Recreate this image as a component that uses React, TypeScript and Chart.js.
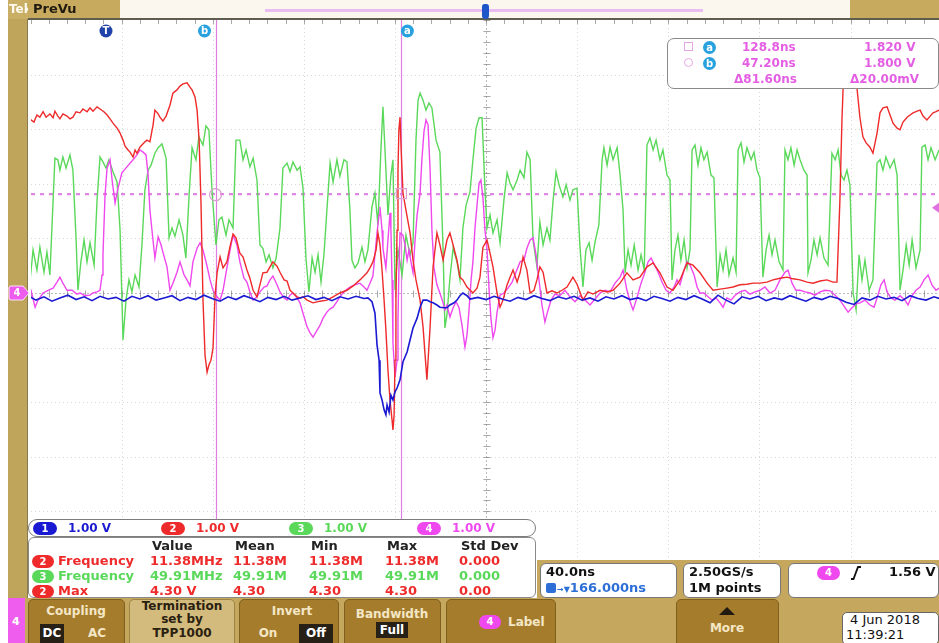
import React, { useEffect, useRef } from "react";
import { Chart, registerables } from "chart.js";

Chart.register(...registerables);

// Horizontal: 40 ns/div, 10 divisions, 166 ns delay at screen centre
const TIME_PER_DIV = 40;
const H_DELAY = 166;
const TIME_MIN = -33.8;
const TIME_MAX = 364.8;
// Vertical: every channel at 1.00 V/div, ±5 divisions
const VOLT_MIN = -5;
const VOLT_MAX = 5;

const CURSOR_A = { t: 128.8, v: 1.82 };
const CURSOR_B = { t: 47.2, v: 1.8 };
const TRIGGER_LEVEL = 1.56;

const channelScales = ["1.00 V", "1.00 V", "1.00 V", "1.00 V"];
const measurementHeaders = ["Value", "Mean", "Min", "Max", "Std Dev"];
const measurementRows = [
  { ch: 2, name: "Frequency", cells: ["11.38MHz", "11.38M", "11.38M", "11.38M", "0.000"] },
  { ch: 3, name: "Frequency", cells: ["49.91MHz", "49.91M", "49.91M", "49.91M", "0.000"] },
  { ch: 2, name: "Max", cells: ["4.30 V", "4.30", "4.30", "4.30", "0.00"] },
];

// Ch1 (blue) [time ns, volts]
const ch1Trace: [number, number][] = [
  [-35.1, -0.05], [-31.6, -0.13], [-28.1, -0.07], [-24.6, -0.15], [-21.1, -0.09], [-17.6, -0.04], [-14.0, -0.12],
  [-10.5, -0.07], [-7.0, -0.14], [-3.5, -0.06], [0, -0.11], [3.5, -0.08], [7.0, -0.15], [10.5, -0.06], [14.0, -0.11],
  [17.6, -0.05], [21.1, -0.13], [24.6, -0.09], [28.1, -0.05], [31.6, -0.14], [35.1, -0.08], [38.6, -0.12], [42.1, -0.04],
  [45.7, -0.1], [49.2, -0.15], [52.7, -0.07], [56.2, -0.12], [59.7, -0.05], [63.2, -0.1], [66.7, -0.16], [70.2, -0.08],
  [73.8, -0.12], [77.3, -0.06], [80.8, -0.13], [84.3, -0.09], [87.8, -0.05], [91.3, -0.12], [94.8, -0.08], [98.3, -0.14],
  [101.8, -0.07], [105.4, -0.11], [108.9, -0.06], [112.4, -0.1], [114.1, -0.09], [115.9, -0.16], [117.2, -0.37],
  [118.1, -0.95], [119.0, -1.23], [119.4, -1.83], [120.3, -1.96], [121.2, -2.14], [122.0, -2.23], [122.5, -2.05],
  [123.4, -2.18], [124.2, -1.87], [125.1, -1.96], [126.0, -1.81], [126.9, -1.74], [128.2, -1.59], [129.5, -1.26],
  [131.3, -1.08], [132.6, -0.86], [133.9, -0.64], [135.7, -0.46], [137.0, -0.26], [138.3, -0.13], [140.0, -0.13],
  [141.4, -0.16], [142.7, -0.18], [144.4, -0.22], [145.7, -0.26], [147.5, -0.27], [148.8, -0.27], [150.1, -0.22],
  [151.9, -0.18], [153.2, -0.13], [154.5, -0.05], [155.8, 0], [157.6, -0.05], [158.9, -0.11], [162.4, -0.08],
  [166.0, -0.12], [169.5, -0.06], [173.0, -0.11], [176.5, -0.15], [180.0, -0.08], [183.5, -0.12], [187.0, -0.05],
  [190.5, -0.1], [194.0, -0.14], [197.6, -0.07], [201.1, -0.11], [204.6, -0.06], [208.1, -0.13], [211.6, -0.09],
  [215.1, -0.15], [218.6, -0.07], [222.1, -0.11], [225.6, -0.05], [229.2, -0.12], [232.7, -0.09], [236.2, -0.14],
  [239.7, -0.06], [243.2, -0.1], [246.7, -0.15], [250.2, -0.08], [253.7, -0.12], [257.3, -0.05], [260.8, -0.11],
  [264.3, -0.18], [267.8, -0.04], [271.3, -0.13], [274.8, -0.2], [278.3, -0.07], [281.8, -0.11], [285.4, -0.06],
  [288.9, -0.14], [292.4, -0.09], [295.9, -0.12], [299.4, -0.05], [302.9, -0.1], [306.4, -0.15], [309.9, -0.08],
  [313.4, -0.12], [317.0, -0.06], [320.5, -0.1], [324.0, -0.17], [327.5, -0.21], [331.0, -0.09], [334.5, -0.13],
  [338.0, -0.06], [341.5, -0.11], [345.1, -0.08], [348.6, -0.14], [352.1, -0.05], [355.6, -0.1], [359.1, -0.13],
  [362.6, -0.07], [364.8, -0.1],
];

// Ch2 (red)
const ch2Trace: [number, number][] = [
  [-35.1, 3.1], [-33.8, 3.17], [-32.5, 3.13], [-31.2, 3.26], [-29.9, 3.22], [-28.5, 3.32], [-27.2, 3.22], [-25.5, 3.28],
  [-24.1, 3.21], [-23.3, 3.33], [-22.0, 3.24], [-21.1, 3.19], [-19.8, 3.28], [-18.0, 3.24], [-16.7, 3.19], [-15.4, 3.22],
  [-14.0, 3.32], [-12.3, 3.3], [-11.0, 3.37], [-9.2, 3.32], [-7.9, 3.39], [-6.6, 3.33], [-4.8, 3.41], [-3.5, 3.37],
  [-1.8, 3.32], [-0.4, 3.26], [0.9, 3.19], [2.2, 3.11], [4.0, 3.02], [5.3, 2.93], [6.6, 2.8], [7.5, 2.69], [8.8, 2.62],
  [9.7, 2.58], [11.0, 2.49], [11.9, 2.62], [12.7, 2.56], [14.0, 2.67], [15.8, 2.75], [17.1, 2.8], [18.4, 2.77],
  [19.8, 3.08], [20.6, 3.35], [22.0, 3.28], [22.8, 3.22], [24.1, 3.15], [25.5, 3.24], [27.2, 3.44], [28.5, 3.66],
  [30.3, 3.72], [31.6, 3.79], [32.9, 3.83], [34.7, 3.85], [36.0, 3.77], [36.9, 3.72], [38.2, 3.59], [39.1, 3.35],
  [40.0, 2.8], [40.8, 1.7], [41.7, -0.13], [42.6, -1.14], [43.5, -1.45], [44.3, -1.32], [45.2, -1.23], [46.1, -1.01],
  [47.0, -0.04], [47.9, 0.37], [49.2, 0.66], [50.5, 0.46], [52.2, 0.57], [53.6, 0.86], [54.9, 1.08], [56.2, 1.01],
  [57.9, 0.73], [59.3, 0.66], [61.0, 0.42], [62.3, 0.27], [63.7, 0.05], [65.4, -0.07], [66.7, 0.15], [68.0, 0.37],
  [69.8, 0.38], [71.1, 0.48], [72.4, 0.57], [74.2, 0.49], [75.5, 0.38], [77.3, 0.24], [78.6, 0.22], [79.9, 0.05],
  [81.2, 0], [83.0, -0.07], [84.3, -0.09], [85.6, -0.07], [87.4, -0.13], [90.0, -0.18], [93.1, -0.15], [96.1, -0.13],
  [98.8, -0.07], [101.8, 0], [104.9, 0.05], [107.6, 0.13], [110.6, 0.24], [113.7, 0.37], [115.0, 0.46], [116.3, 0.57],
  [117.7, 0.79], [118.5, 1.1], [119.4, 0.88], [120.3, 0.42], [121.2, -0.13], [122.0, -0.68], [122.9, -1.41],
  [123.8, -1.96], [124.7, -2.33], [125.1, -2.51], [125.6, -2.23], [126.0, -1.23], [126.4, -0.13], [126.9, 1.15],
  [127.3, 2.25], [127.7, 2.99], [128.2, 3.22], [128.7, 2.62], [129.5, 1.83], [130.8, 1.52], [132.6, 1.1], [133.9, 0.6],
  [135.2, 0.24], [137.0, -0.13], [138.3, -0.62], [140.0, -1.59], [141.4, -0.62], [142.7, 0.48], [144.4, 1.1],
  [145.7, 0.88], [147.1, 0.6], [148.8, 0.97], [150.1, 1.1], [151.5, 0.88], [153.2, 0.6], [154.5, 0.29], [155.8, 0.24],
  [157.6, 0.11], [160.2, 0], [162.0, 0.09], [163.3, 0.29], [164.6, 0.84], [166.4, 0.97], [167.7, 0.73], [169.0, 0.48],
  [170.8, 0], [172.1, -0.26], [173.4, -0.13], [175.2, 0.15], [176.5, 0.29], [177.8, 0.42], [179.6, 0.2], [180.9, 0.37],
  [182.2, 0.66], [183.9, 0.42], [185.3, 0], [187.0, 0.05], [188.3, 0.24], [189.6, 0.48], [191.0, 0.38], [192.7, 0],
  [194.9, 0.04], [197.1, 0], [199.3, 0.05], [201.5, 0.11], [204.1, 0.29], [205.9, 0.16], [208.5, -0.13], [210.7, 0.02],
  [212.9, -0.02], [216.0, 0.05], [219.1, 0.02], [221.7, 0.05], [224.8, 0.18], [227.8, 0.37], [230.5, 0.24], [233.5, 0.29],
  [236.6, 0.48], [239.3, 0.55], [242.3, 0.37], [245.4, 0.11], [248.0, 0.05], [251.1, 0.24], [254.2, 0.55], [256.8, 0.51],
  [259.9, 0.37], [263.0, 0.18], [265.6, 0.05], [268.7, 0.07], [271.7, 0.09], [274.4, 0.11], [277.4, 0.15], [280.5, 0.16],
  [283.2, 0.18], [286.2, 0.18], [289.3, 0.2], [291.9, 0.24], [295.0, 0.27], [298.1, 0.29], [300.7, 0.26], [303.8, 0.24],
  [306.9, 0.2], [309.5, 0.18], [312.6, 0.22], [315.6, 0.24], [318.3, 0.2], [320.0, 0.2], [321.3, 1.7], [322.2, 3.17],
  [322.7, 3.75], [324.4, 4.3], [326.6, 4.23], [328.8, 3.75], [330.1, 3.21], [331.4, 2.86], [332.8, 2.75], [334.5, 2.67],
  [335.8, 2.56], [337.6, 2.93], [338.9, 3.3], [340.2, 3.39], [342.0, 3.41], [343.3, 3.26], [344.6, 3.11], [346.4, 3.02],
  [347.7, 2.99], [349.0, 3.13], [350.8, 3.22], [352.1, 3.26], [353.4, 3.3], [355.2, 3.33], [356.5, 3.35], [357.8, 3.24],
  [359.5, 3.17], [360.9, 3.24], [362.2, 3.3], [363.5, 3.32], [364.8, 3.35],
];

// Ch3 (green)
const ch3Trace: [number, number][] = [
  [-34.7, 0.02], [-32.9, 0.79], [-31.2, 0.42], [-29.9, 0.84], [-28.1, 0.38], [-26.8, 0.75], [-25.5, 0.33], [-24.1, 1.7],
  [-23.3, 2.47], [-22.0, 2.44], [-21.1, 2.25], [-19.8, 2.49], [-18.4, 2.29], [-16.7, 2.53], [-15.4, 2.25], [-14.0, 0.97],
  [-13.2, 0.05], [-11.9, 0.57], [-10.5, 0.97], [-9.2, 0.57], [-7.9, 0.92], [-6.1, 0.51], [-4.8, 1.7], [-3.5, 2.49],
  [-2.2, 2.4], [-0.9, 2.29], [0.4, 2.44], [2.2, 2.22], [4.0, 2.03], [5.3, 1.15], [6.6, -0.86], [7.9, -0.13], [9.2, 0.24],
  [10.5, 0.02], [11.9, 0.33], [13.6, 0.11], [14.9, 0.88], [16.2, 1.89], [17.6, 2.25], [18.9, 2.34], [20.6, 2.56],
  [22.0, 2.66], [23.7, 2.73], [25.5, 2.47], [26.8, 1.01], [28.1, 1.19], [29.4, 1.04], [31.2, 1.34], [32.9, 1.06],
  [34.2, 0.64], [35.6, 1.79], [36.9, 2.66], [38.6, 2.44], [39.9, 2.86], [41.7, 2.71], [43.0, 3.06], [44.3, 2.99],
  [45.7, 1.85], [47.4, 0.88], [48.7, 1.34], [50.0, 1.39], [51.8, 1.06], [53.1, 1.34], [54.9, 1.19], [56.2, 2.8],
  [57.9, 2.8], [59.3, 2.44], [60.6, 2.62], [62.3, 2.31], [63.7, 2.47], [65.4, 2.07], [66.7, 0.88], [68.0, 0.82],
  [69.4, 0.57], [70.7, 0.7], [72.4, 0.46], [73.8, 0.64], [75.5, 1.19], [76.8, 2.29], [78.6, 2.38], [79.9, 2.22],
  [81.2, 2.4], [83.0, 2.25], [84.3, 2.31], [85.6, 1.92], [86.9, 0.64], [88.2, 0.02], [89.6, 0.64], [90.9, 0.38],
  [92.2, 0.7], [93.5, 0.2], [94.8, 0.7], [96.1, 1.52], [97.5, 2.38], [98.8, 2.03], [100.5, 2.44], [101.8, 2.14],
  [103.6, 2.44], [104.9, 2.4], [106.2, 1.52], [107.1, 0.6], [108.4, 0.46], [109.8, 0.55], [111.5, 0.84], [112.8, 0.57],
  [114.1, 0.79], [115.9, 1.58], [117.2, 1.83], [118.5, 1.25], [119.8, 2.62], [120.7, 3.41], [121.6, 2.62], [122.9, 1.43],
  [124.2, 2.16], [125.1, 2.44], [126.0, 0.05], [127.3, 0.79], [129.1, 0.33], [130.8, 1.06], [132.6, 0.7], [133.9, 0.92],
  [135.2, 2.8], [136.1, 3.53], [137.0, 3.66], [138.3, 3.53], [139.6, 3.35], [140.9, 3.48], [142.2, 3.39], [144.0, 2.8],
  [145.7, 2.58], [147.1, 0.79], [147.9, -0.64], [148.8, -0.4], [150.1, 0.27], [151.5, 0.82], [153.2, 0.57], [154.5, 0.24],
  [155.8, 1.19], [157.2, 1.61], [158.9, 1.85], [160.2, 2.44], [161.6, 3.02], [162.9, 3.21], [164.2, 3.21], [165.5, 1.89],
  [166.4, 1.19], [167.7, 1.43], [169.0, 1.1], [170.8, 1.34], [172.1, 0.92], [173.8, 1.7], [175.2, 2.2], [176.5, 2.01],
  [177.8, 1.89], [179.6, 2.07], [180.9, 2.25], [182.6, 2.11], [183.9, 2.58], [185.3, 2.44], [186.6, 0.97], [188.3, 0.48],
  [189.6, 1.3], [191.0, 0.88], [192.7, 1.19], [194.0, 0.97], [195.4, 1.7], [196.7, 2.22], [198.0, 1.98], [199.7, 1.76],
  [201.1, 1.98], [202.8, 1.7], [204.1, 1.89], [205.9, 1.92], [207.2, 0.84], [208.5, 0.11], [209.8, 0.79], [211.2, 0.92],
  [212.5, 0.6], [213.8, 0.93], [215.5, 1.25], [216.9, 2.44], [217.7, 2.66], [219.1, 2.34], [220.4, 2.67], [221.7, 2.44],
  [223.5, 2.66], [224.8, 2.16], [226.1, 1.52], [227.0, 0.37], [228.3, 0.79], [229.6, 0.51], [231.0, 0.88], [232.7, 0.42],
  [234.0, 0.7], [235.4, 0.42], [236.6, 2.71], [237.9, 2.84], [239.3, 2.62], [240.6, 2.8], [242.3, 2.44], [243.6, 2.62],
  [245.4, 2.16], [246.7, 2.07], [247.6, 0.24], [248.9, 0.79], [250.2, 1.06], [251.5, 0.6], [252.9, 0.97], [254.2, 0.46],
  [255.5, 0.79], [256.4, 2.62], [257.7, 2.71], [259.0, 2.34], [260.3, 2.66], [261.6, 2.44], [263.0, 2.58], [264.7, 2.16],
  [266.0, 2.11], [267.4, 0.11], [268.7, 0.7], [270.0, 0.42], [271.3, 0.79], [272.6, 0.33], [274.4, 0.64], [275.7, 0.38],
  [276.6, 2.62], [277.9, 2.75], [279.2, 2.4], [280.5, 2.66], [282.3, 2.44], [283.6, 2.58], [284.9, 2.25], [286.2, 2.11],
  [287.5, 0.29], [288.9, 0.79], [290.2, 1.06], [291.5, 0.7], [292.8, 0.97], [294.6, 0.57], [296.3, 0.42], [297.2, 2.62],
  [298.5, 2.44], [299.8, 2.66], [301.2, 2.34], [302.5, 2.62], [303.8, 2.44], [305.5, 2.25], [306.9, 2.16], [307.3, 0.37],
  [308.6, 0.6], [309.9, 0.97], [311.3, 0.7], [312.6, 1.01], [314.3, 0.64], [316.1, 0.51], [317.8, 2.56], [319.2, 2.44],
  [320.5, 2.62], [321.8, 2.16], [323.1, 2.07], [324.4, 2.25], [325.7, 1.98], [327.1, 0], [328.4, -0.31], [329.7, 0.7],
  [331.0, 0.24], [332.3, 0.6], [334.1, 0.05], [335.8, 0.24], [337.6, 2.38], [338.9, 2.44], [340.2, 2.25], [341.5, 2.49],
  [343.3, 2.29], [345.1, 2.44], [346.4, 2.16], [347.7, 0.05], [349.0, 0.42], [350.4, 0.88], [351.7, 0.51], [353.0, 0.97],
  [354.7, 0.46], [356.5, 0.79], [357.3, 2.67], [358.7, 2.71], [360.0, 2.44], [361.3, 2.66], [363.1, 2.44], [364.8, 2.62],
];

// Ch4 (magenta)
const ch4Trace: [number, number][] = [
  [-35.1, 0], [-33.8, 0.05], [-32.0, -0.26], [-30.7, -0.13], [-28.5, 0], [-26.3, 0.05], [-24.1, 0.09], [-22.4, 0.2],
  [-21.1, 0.29], [-19.8, 0.18], [-18.0, 0.05], [-15.8, 0.05], [-13.6, -0.02], [-12.3, 0], [-10.1, -0.05], [-7.9, -0.04],
  [-6.6, 0], [-4.8, 0.02], [-3.5, 0.05], [-2.6, 0.33], [-2.2, 0.7], [-1.3, 1.79], [-0.4, 2.29], [0.9, 2.44], [1.8, 2.07],
  [3.1, 1.65], [4.4, 1.92], [6.1, 2.2], [8.3, 2.31], [11.0, 2.44], [12.7, 2.53], [14.0, 2.62], [15.4, 2.58], [16.7, 2.53],
  [17.6, 2.16], [18.4, 1.52], [19.3, 1.15], [20.6, 0.64], [22.0, 1.03], [23.3, 0.88], [24.1, 0.75], [25.9, 0.48],
  [27.2, 0.05], [28.5, 0.18], [30.3, 0.38], [31.6, 0.57], [33.4, 0.33], [34.7, 0.24], [36.0, 0.13], [37.3, 0.57],
  [39.1, 0.82], [40.4, 0.92], [41.7, 0.79], [43.5, 0.49], [44.8, 0.24], [46.1, 0.05], [47.9, -0.07], [49.2, -0.13],
  [50.5, 0.05], [52.2, 0.46], [53.6, 0.79], [54.9, 1.06], [56.6, 0.88], [57.9, 0.57], [59.7, 0.27], [61.0, 0.2],
  [62.3, 0.02], [63.7, -0.13], [65.4, -0.07], [66.7, 0.02], [68.5, 0.11], [69.8, 0.13], [71.1, 0.24], [72.4, 0.31],
  [74.2, 0.15], [75.5, 0.02], [77.3, -0.09], [78.6, -0.13], [79.9, -0.04], [81.2, 0], [83.0, -0.09], [84.3, -0.18],
  [85.6, -0.37], [87.4, -0.62], [88.7, -0.73], [90.0, -0.81], [91.8, -0.68], [93.1, -0.59], [94.4, -0.46], [96.1, -0.35],
  [97.5, -0.29], [98.8, -0.26], [100.5, -0.16], [101.8, -0.07], [103.6, 0.02], [104.9, 0.07], [106.2, 0.11], [108.4, 0.15],
  [110.6, 0.18], [112.4, 0.11], [113.7, 0.05], [115.0, 0.18], [116.3, 0.31], [117.2, 0.7], [118.1, 1.1], [119.0, 1.43],
  [119.4, 1.58], [120.3, 1.15], [120.7, 0.82], [121.6, 0.57], [122.0, 0.46], [122.9, 0.97], [123.8, 1.47], [124.2, 1.15],
  [124.7, 0.24], [125.1, -0.92], [126.0, -1.54], [126.9, -1.23], [127.3, -0.49], [127.7, 0.42], [128.2, 1.1], [129.5, 1.06],
  [130.4, 0.88], [131.3, 0.6], [132.1, 0.79], [133.0, 0.57], [133.9, 0.37], [134.8, 0.97], [135.7, 1.43], [137.0, 1.83],
  [137.8, 2.44], [138.7, 2.95], [139.6, 3.17], [140.5, 3.08], [141.4, 2.25], [142.2, 1.15], [143.1, 0.46], [144.4, 0.15],
  [145.7, 0], [147.1, -0.18], [147.9, -0.31], [148.8, -0.22], [150.1, -0.44], [151.5, -0.27], [152.8, -0.16],
  [154.1, -0.27], [155.4, -0.59], [156.7, -0.99], [157.6, -0.77], [158.5, -0.31], [159.4, 0.24], [160.2, 0.57],
  [161.1, 1.19], [162.0, 1.61], [162.9, 2.01], [163.7, 2.07], [164.6, 1.74], [165.5, 1.15], [166.4, 0.79], [167.3, 0.05],
  [168.1, -0.46], [169.0, -0.82], [169.9, -0.68], [170.8, -0.35], [172.1, -0.04], [173.8, 0], [175.6, 0.09], [177.4, 0.2],
  [179.1, 0.38], [180.9, 0.57], [182.6, 0.6], [183.9, 0.82], [185.3, 0.97], [186.6, 1.01], [187.9, 0.7], [189.2, 0.24],
  [190.5, -0.22], [191.8, -0.53], [193.2, -0.31], [194.5, -0.13], [196.2, -0.02], [198.4, -0.05], [200.6, 0.05],
  [202.8, -0.07], [205.0, -0.16], [207.2, -0.05], [209.4, -0.13], [211.6, -0.22], [213.8, -0.11], [216.0, 0], [218.2, 0.05],
  [220.4, 0.02], [222.6, 0.18], [224.8, 0.29], [226.1, 0.42], [227.8, 0.05], [229.2, -0.16], [230.5, -0.31], [232.2, -0.09],
  [234.0, 0.18], [235.7, 0.38], [237.1, 0.57], [238.4, 0.64], [239.7, 0.53], [241.5, 0.38], [243.2, 0.2], [245.0, 0.05],
  [246.7, 0], [248.5, 0.11], [249.8, 0.24], [251.1, 0.15], [252.9, 0.42], [254.2, 0.57], [255.5, 0.51], [257.3, 0.33],
  [258.6, 0.11], [259.9, 0], [261.6, 0], [263.4, -0.07], [265.2, -0.13], [266.9, -0.09], [268.7, -0.18], [270.0, -0.26],
  [271.7, -0.09], [273.5, -0.13], [275.3, -0.04], [277.4, 0.02], [279.6, 0.05], [281.8, -0.02], [284.0, 0.02], [286.2, 0.05],
  [288.4, 0.11], [290.6, 0], [292.8, 0.05], [295.0, 0.24], [297.2, 0.38], [298.5, 0.42], [300.3, 0.18], [302.0, 0.05],
  [303.8, 0.05], [306.0, 0.02], [308.2, 0], [310.4, -0.04], [312.6, 0.02], [314.8, 0.05], [317.0, 0.04], [319.2, -0.04],
  [321.3, -0.13], [323.1, -0.24], [324.9, -0.35], [326.6, -0.27], [328.4, -0.2], [330.1, -0.18], [332.3, -0.13],
  [334.5, -0.22], [336.3, -0.26], [338.0, -0.04], [339.3, 0.15], [340.7, 0.24], [342.0, 0.02], [343.7, -0.09],
  [345.5, -0.13], [347.7, -0.05], [349.9, -0.13], [351.2, -0.22], [352.9, -0.05], [354.7, 0.05], [356.5, 0.11],
  [358.2, 0.24], [360.0, 0.33], [361.7, 0.15], [363.5, 0.05], [364.8, 0.09],
];

const CH_COLORS = ["#1a1ad2", "#ee2a2a", "#5ad85a", "#ee48ee"];
const FONT = '"DejaVu Sans", Verdana, sans-serif';
const TAN = "#c5a85d";
const BTN = "#a57c2c";

const toPoints = (arr: [number, number][]) => arr.map(([x, y]) => ({ x, y }));

function roundBadge(ctx: CanvasRenderingContext2D, cx: number, cy: number, color: string, letter: string) {
  ctx.beginPath();
  ctx.arc(cx, cy, 6.5, 0, Math.PI * 2);
  ctx.fillStyle = color;
  ctx.fill();
  ctx.fillStyle = "#fff";
  ctx.font = `bold 10px ${FONT}`;
  ctx.textAlign = "center";
  ctx.textBaseline = "middle";
  ctx.fillText(letter, cx, cy + 0.5);
}

const scopeGraticule = {
  id: "scopeGraticule",
  beforeDraw(chart: any) {
    const { ctx } = chart;
    ctx.save();
    ctx.fillStyle = "#fff";
    ctx.fillRect(0, 0, chart.width, chart.height);
    // instrument frame on the left
    ctx.fillStyle = "#bfa45b";
    ctx.fillRect(8, 19, 20, 580);
    ctx.fillStyle = "#8a7b4c";
    ctx.fillRect(27, 19, 1, 580);
    ctx.restore();
  },
  beforeDatasetsDraw(chart: any) {
    const { ctx, chartArea, scales } = chart;
    const { left, right, top, bottom } = chartArea;
    const xs = scales.x;
    const ys = scales.y;
    ctx.save();
    const vline = (px: number) => {
      ctx.beginPath();
      ctx.moveTo(px, top);
      ctx.lineTo(px, bottom);
      ctx.stroke();
    };
    const hline = (py: number) => {
      ctx.beginPath();
      ctx.moveTo(left, py);
      ctx.lineTo(right, py);
      ctx.stroke();
    };
    // division grid
    ctx.lineWidth = 1;
    ctx.strokeStyle = "rgba(140,140,140,0.35)";
    ctx.setLineDash([1, 3]);
    for (let k = -4; k <= 4; k++) {
      if (k === 0) continue;
      vline(Math.round(xs.getPixelForValue(H_DELAY + k * TIME_PER_DIV)) + 0.5);
    }
    for (let v = VOLT_MIN + 1; v < VOLT_MAX; v++) {
      if (v === 0) continue;
      hline(Math.round(ys.getPixelForValue(v)) + 0.5);
    }
    // centre graticule with fifth-division ticks
    const cx = Math.round(xs.getPixelForValue(H_DELAY)) + 0.5;
    const cy = Math.round(ys.getPixelForValue(0)) + 0.5;
    ctx.strokeStyle = "rgba(120,120,120,0.5)";
    ctx.setLineDash([2, 2]);
    vline(cx);
    hline(cy);
    ctx.setLineDash([]);
    ctx.strokeStyle = "rgba(110,110,110,0.6)";
    ctx.beginPath();
    for (let m = VOLT_MIN * 5; m <= VOLT_MAX * 5; m++) {
      const py = Math.round(ys.getPixelForValue(m / 5)) + 0.5;
      ctx.moveTo(cx - 3, py);
      ctx.lineTo(cx + 4, py);
    }
    for (let m = -26; m <= 26; m++) {
      const px = Math.round(xs.getPixelForValue(H_DELAY + (m * TIME_PER_DIV) / 5)) + 0.5;
      if (px < left || px > right) continue;
      ctx.moveTo(px, cy - 3);
      ctx.lineTo(px, cy + 4);
      ctx.moveTo(px, top);
      ctx.lineTo(px, top + 4);
    }
    ctx.stroke();
    // vertical time cursors
    ctx.strokeStyle = "#e07ee2";
    ctx.lineWidth = 1.2;
    [CURSOR_A.t, CURSOR_B.t].forEach((t) => vline(Math.round(xs.getPixelForValue(t)) + 0.5));
    // horizontal amplitude cursors
    ctx.strokeStyle = "#de86e2";
    ctx.lineWidth = 1.3;
    ctx.setLineDash([4, 5]);
    [CURSOR_A.v, CURSOR_B.v].forEach((v) => hline(ys.getPixelForValue(v)));
    ctx.restore();
  },
  afterDatasetsDraw(chart: any) {
    const { ctx, chartArea, scales } = chart;
    const { top, right } = chartArea;
    const xs = scales.x;
    const ys = scales.y;
    ctx.save();
    const ax = xs.getPixelForValue(CURSOR_A.t);
    const bx = xs.getPixelForValue(CURSOR_B.t);
    const ay = ys.getPixelForValue(CURSOR_A.v);
    const by = ys.getPixelForValue(CURSOR_B.v);
    ctx.strokeStyle = "#d8a2cf";
    ctx.lineWidth = 1.2;
    ctx.strokeRect(ax - 5, ay - 5, 10, 10);
    ctx.beginPath();
    ctx.arc(bx, by, 6, 0, Math.PI * 2);
    ctx.stroke();
    roundBadge(ctx, bx - 11, top + 11, "#27a2de", "b");
    roundBadge(ctx, ax + 6, top + 11, "#27a2de", "a");
    roundBadge(ctx, xs.getPixelForValue(0) - 2, top + 11, "#1f43a8", "T");
    // trigger level arrow
    const ty = ys.getPixelForValue(TRIGGER_LEVEL);
    ctx.fillStyle = "#e070e0";
    ctx.beginPath();
    ctx.moveTo(right, ty - 5);
    ctx.lineTo(right - 7, ty);
    ctx.lineTo(right, ty + 5);
    ctx.closePath();
    ctx.fill();
    // channel 4 ground reference tag
    const gy = ys.getPixelForValue(0);
    ctx.beginPath();
    ctx.moveTo(11, gy - 7);
    ctx.lineTo(23, gy - 7);
    ctx.lineTo(29, gy);
    ctx.lineTo(23, gy + 7);
    ctx.lineTo(11, gy + 7);
    ctx.quadraticCurveTo(9, gy + 7, 9, gy + 5);
    ctx.lineTo(9, gy - 5);
    ctx.quadraticCurveTo(9, gy - 7, 11, gy - 7);
    ctx.closePath();
    ctx.fillStyle = "#ee5cee";
    ctx.fill();
    ctx.strokeStyle = "#fbe0fb";
    ctx.lineWidth = 1;
    ctx.stroke();
    ctx.fillStyle = "#fff";
    ctx.font = `bold 10px ${FONT}`;
    ctx.textAlign = "center";
    ctx.textBaseline = "middle";
    ctx.fillText("4", 17, gy + 0.5);
    ctx.restore();
  },
};

type TxtProps = {
  x: number;
  y: number;
  size?: number;
  color?: string;
  bold?: boolean;
  center?: boolean;
  children: React.ReactNode;
};

function Txt({ x, y, size = 12, color = "#111", bold = false, center = false, children }: TxtProps) {
  const lh = Math.round(size * 1.2);
  return (
    <div
      style={{
        position: "absolute",
        left: x,
        top: y - lh / 2,
        fontSize: size,
        lineHeight: `${lh}px`,
        color,
        fontWeight: bold ? 700 : 400,
        whiteSpace: "nowrap",
        transform: center ? "translateX(-50%)" : undefined,
        fontFamily: FONT,
      }}
    >
      {children}
    </div>
  );
}

function Box({ x, y, w, h, style, children }: { x: number; y: number; w: number; h: number; style?: React.CSSProperties; children?: React.ReactNode }) {
  return (
    <div style={{ position: "absolute", left: x, top: y, width: w, height: h, boxSizing: "border-box", ...style }}>
      {children}
    </div>
  );
}

function Pill({ x, y, w = 24, h = 14, bg, label }: { x: number; y: number; w?: number; h?: number; bg: string; label: string }) {
  return (
    <div
      style={{
        position: "absolute",
        left: x,
        top: y - h / 2,
        width: w,
        height: h,
        borderRadius: h / 2,
        background: bg,
        color: "#fff",
        fontSize: 10,
        fontWeight: 700,
        lineHeight: `${h}px`,
        textAlign: "center",
        fontFamily: FONT,
      }}
    >
      {label}
    </div>
  );
}

export default function App() {
  const canvasRef = useRef<HTMLCanvasElement | null>(null);

  useEffect(() => {
    const canvas = canvasRef.current;
    if (!canvas) return;
    const traces = [ch1Trace, ch2Trace, ch3Trace, ch4Trace];
    const labels = ["Ch1", "Ch2", "Ch3", "Ch4"];
    // Ch1 first so it is drawn on top, then Ch2, Ch4, Ch3
    const drawOrder = [0, 1, 3, 2];
    const chart = new Chart(canvas, {
      type: "line",
      data: {
        datasets: drawOrder.map((i) => ({
          label: labels[i],
          data: toPoints(traces[i]),
          borderColor: CH_COLORS[i],
          borderWidth: i === 0 ? 1.6 : 1.4,
          pointRadius: 0,
          tension: 0,
          fill: false,
        })),
      },
      options: {
        responsive: false,
        animation: false,
        devicePixelRatio: 1,
        events: [],
        layout: { padding: { left: 31, right: 0, top: 20, bottom: 77 } },
        scales: {
          x: { type: "linear", min: TIME_MIN, max: TIME_MAX, display: false },
          y: { type: "linear", min: VOLT_MIN, max: VOLT_MAX, display: false },
        },
        plugins: { legend: { display: false }, tooltip: { enabled: false } },
      },
      plugins: [scopeGraticule],
    });
    return () => chart.destroy();
  }, []);

  const magenta = "#e35ee3";
  const dV = Math.abs(CURSOR_A.v - CURSOR_B.v) * 1000;
  const dT = Math.abs(CURSOR_A.t - CURSOR_B.t);
  const light = "#f4e7c6";
  const dark = "#2a2010";
  const colX = [150, 233, 309, 385, 459];

  return (
    <div style={{ position: "fixed", left: 0, top: 0, width: 939, height: 643, overflow: "hidden", background: "#fff", fontFamily: FONT }}>
      <canvas ref={canvasRef} width={939} height={643} style={{ position: "absolute", left: 0, top: 0, width: 939, height: 643 }} />

      {/* header strip */}
      <Box x={8} y={0} w={931} h={19} style={{ background: "#fcf7ee" }} />
      <Box x={8} y={0} w={20} h={19} style={{ background: "#c9ae66" }} />
      <Txt x={9} y={9} size={12} bold color="#fffaf0">Tek</Txt>
      <Box x={28} y={0} w={92} h={19} style={{ background: "#c7aa5e" }} />
      <Txt x={33} y={9} size={13} bold color="#1e1a10">PreVu</Txt>
      <Box x={265} y={9} w={438} h={3} style={{ background: "#e9bdf2" }} />
      <Box x={850} y={0} w={89} h={19} style={{ background: "#c7aa5e" }} />
      <Box x={28} y={18} w={911} h={2} style={{ background: "#5f5c50" }} />
      <Box x={482} y={4} w={7} h={15} style={{ background: "#1e55c8", borderRadius: "3px 3px 4px 4px" }} />

      {/* cursor readout */}
      <Box x={667} y={38} w={272} h={51} style={{ background: "#fff", border: "1.5px solid #8a8a8a", borderRadius: 7 }} />
      <Box x={684} y={42} w={9} h={9} style={{ border: "1px solid #e6a6e6" }} />
      <Box x={684} y={58} w={9} h={9} style={{ border: "1px solid #e6a6e6", borderRadius: "50%" }} />
      <Pill x={703} y={47} w={13} h={13} bg="#27a2de" label="a" />
      <Pill x={703} y={63} w={13} h={13} bg="#27a2de" label="b" />
      <Txt x={742} y={47} bold color={magenta}>{`${CURSOR_A.t.toFixed(1)}ns`}</Txt>
      <Txt x={864} y={47} bold color={magenta}>{`${CURSOR_A.v.toFixed(3)} V`}</Txt>
      <Txt x={742} y={63} bold color={magenta}>{`${CURSOR_B.t.toFixed(2)}ns`}</Txt>
      <Txt x={864} y={63} bold color={magenta}>{`${CURSOR_B.v.toFixed(3)} V`}</Txt>
      <Txt x={734} y={79} bold color={magenta}>{`Δ${dT.toFixed(2)}ns`}</Txt>
      <Txt x={850} y={79} bold color={magenta}>{`Δ${dV.toFixed(2)}mV`}</Txt>

      {/* lower tan panels */}
      <Box x={537} y={560} w={402} h={83} style={{ background: TAN }} />
      <Box x={8} y={598} w={931} h={45} style={{ background: TAN }} />

      {/* channel scale bar */}
      <Box x={28} y={519} w={508} h={18} style={{ background: "#fff", border: "1.5px solid #7c7c7c", borderRadius: 9 }} />
      {channelScales.map((s, i) => (
        <React.Fragment key={i}>
          <Pill x={33 + i * 128} y={528} w={24} h={13} bg={CH_COLORS[i]} label={String(i + 1)} />
          <Txt x={68 + i * 128} y={528} bold color={CH_COLORS[i]}>{s}</Txt>
        </React.Fragment>
      ))}

      {/* measurement table */}
      <Box x={28} y={537} w={508} h={61} style={{ background: "#fff", border: "1px solid #8a8a8a", borderRadius: 6 }} />
      {measurementHeaders.map((h, i) => (
        <Txt key={h} x={colX[i] + 2} y={546} size={13} bold color="#222">{h}</Txt>
      ))}
      {measurementRows.map((r, j) => {
        const y = 561 + j * 15;
        const col = CH_COLORS[r.ch - 1];
        return (
          <React.Fragment key={j}>
            <Pill x={32} y={y} w={22} h={13} bg={col} label={String(r.ch)} />
            <Txt x={58} y={y} size={13} bold color={col}>{r.name}</Txt>
            {r.cells.map((c, i) => (
              <Txt key={i} x={colX[i]} y={y} size={13} bold color={col}>{c}</Txt>
            ))}
          </React.Fragment>
        );
      })}

      {/* horizontal / acquisition / trigger badges */}
      <Box x={540} y={563} w={137} h={35} style={{ background: "#fff", border: "1px solid #777", borderRadius: 6 }} />
      <Txt x={546} y={572} size={13} bold color="#111">{`${TIME_PER_DIV.toFixed(1)}ns`}</Txt>
      <Box x={546} y={583} w={10} h={10} style={{ background: "#2d6fd6", borderRadius: 2 }} />
      <Txt x={557} y={588} size={13} bold color="#2d6fd6">
        <span style={{ fontSize: 8 }}>→▼</span>
        {`${H_DELAY.toFixed(3)}ns`}
      </Txt>
      <Box x={683} y={563} w={98} h={35} style={{ background: "#fff", border: "1px solid #777", borderRadius: 6 }} />
      <Txt x={689} y={572} size={13} bold color="#111">2.50GS/s</Txt>
      <Txt x={689} y={588} size={13} bold color="#111">1M points</Txt>
      <Box x={788} y={563} w={151} h={35} style={{ background: "#fff", border: "1px solid #777", borderRadius: 6 }} />
      <Pill x={817} y={573} w={23} h={14} bg={CH_COLORS[3]} label="4" />
      <svg style={{ position: "absolute", left: 850, top: 565 }} width={12} height={16}>
        <path d="M1 14 L3.5 14 L8 2 L11 2" stroke="#111" strokeWidth={1.8} fill="none" />
      </svg>
      <Txt x={889} y={572} size={13} bold color="#111">{`${TRIGGER_LEVEL.toFixed(2)} V`}</Txt>

      {/* side-menu buttons */}
      <Box x={8} y={598} w={17} h={45} style={{ background: "#ef5def" }} />
      <Txt x={12} y={621} size={11} bold color="#fff">4</Txt>

      <Box x={28} y={599} w={97} h={46} style={{ background: BTN, border: "1px solid #80601e", borderRadius: "5px 5px 0 0" }} />
      <Txt x={76} y={611} bold center color={light}>Coupling</Txt>
      <Box x={40} y={624} w={24} h={19} style={{ background: "#262017" }} />
      <Txt x={52} y={633} bold center color="#fff">DC</Txt>
      <Txt x={97} y={633} bold center color={light}>AC</Txt>

      <Box x={129} y={599} w={106} h={46} style={{ background: "#d2bb7c", border: "1px solid #9c8446", borderRadius: "5px 5px 0 0" }} />
      <Txt x={182} y={606} bold center color={dark}>Termination</Txt>
      <Txt x={182} y={619} bold center color={dark}>set by</Txt>
      <Txt x={182} y={633} bold center color={dark}>TPP1000</Txt>

      <Box x={239} y={599} w={100} h={46} style={{ background: BTN, border: "1px solid #80601e", borderRadius: "5px 5px 0 0" }} />
      <Txt x={292} y={611} bold center color={light}>Invert</Txt>
      <Txt x={268} y={633} bold center color={light}>On</Txt>
      <Box x={299} y={624} w={34} h={19} style={{ background: "#262017" }} />
      <Txt x={316} y={633} bold center color="#fff">Off</Txt>

      <Box x={344} y={599} w={97} h={46} style={{ background: BTN, border: "1px solid #80601e", borderRadius: "5px 5px 0 0" }} />
      <Txt x={392} y={614} bold center color={light}>Bandwidth</Txt>
      <Box x={376} y={622} w={32} h={16} style={{ background: "#262017" }} />
      <Txt x={392} y={630} bold center color="#fff">Full</Txt>

      <Box x={446} y={599} w={110} h={46} style={{ background: BTN, border: "1px solid #80601e", borderRadius: "5px 5px 0 0" }} />
      <Pill x={479} y={622} w={22} h={14} bg={CH_COLORS[3]} label="4" />
      <Txt x={508} y={622} bold color={light}>Label</Txt>

      <Box x={676} y={599} w={103} h={46} style={{ background: BTN, border: "1px solid #80601e", borderRadius: "5px 5px 0 0" }} />
      <svg style={{ position: "absolute", left: 719, top: 606 }} width={16} height={9}>
        <path d="M0 9 L8 1 L16 9 Z" fill="#201a10" />
      </svg>
      <Txt x={727} y={628} bold center color={light}>More</Txt>

      <Box x={842} y={612} w={97} h={33} style={{ background: "#fff", border: "1px solid #666", borderRadius: 5 }} />
      <Txt x={850} y={620} size={13} color="#111">4 Jun 2018</Txt>
      <Txt x={846} y={635} size={13} color="#111">11:39:21</Txt>
    </div>
  );
}
